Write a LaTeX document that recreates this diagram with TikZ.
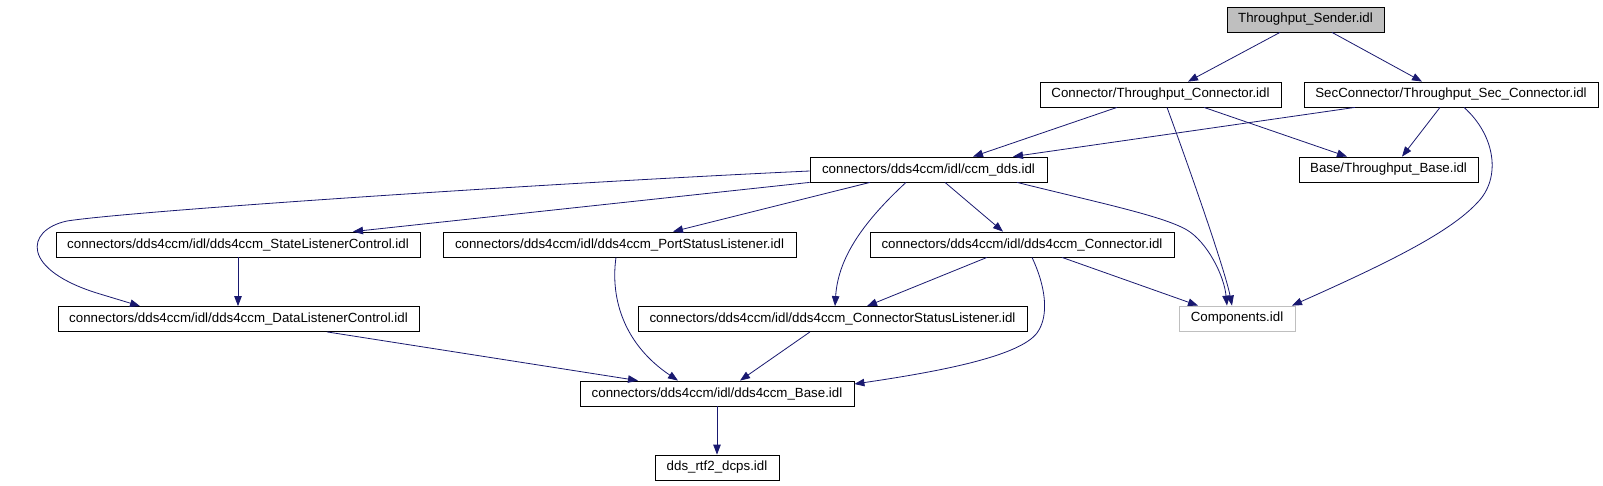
\documentclass[tikz,border=0pt]{standalone}
\usepackage{fontspec}
\setmainfont{Liberation Sans}
\usetikzlibrary{arrows.meta}
\definecolor{edgecol}{HTML}{191970}
\definecolor{grayfill}{HTML}{BFBFBF}
\begin{document}
\begin{tikzpicture}[x=1pt,y=-1pt,
  box/.style={draw=black, line width=0.8pt, fill=white, inner sep=0pt, minimum height=25pt,
    font=\fontsize{13.3}{16}\selectfont, anchor=center},
  rootbox/.style={box, fill=grayfill},
  extbox/.style={box, draw=grayfill},
  edge/.style={draw=edgecol, line width=0.8pt, -{Triangle[length=10pt,width=7.5pt]}}]
\useasboundingbox (0,0) rectangle (1603,485);
\fill[white] (0,0) rectangle (1603,485);

% nodes
\node[rootbox, minimum width=157pt] (sender) at (1305.5,19.5) {Throughput\_Sender.idl};
\node[box, minimum width=241pt] (conntp) at (1160.5,94.5) {Connector/Throughput\_Connector.idl};
\node[box, minimum width=294pt] (secconn) at (1451,94.5) {SecConnector/Throughput\_Sec\_Connector.idl};
\node[box, minimum width=237pt] (ccm) at (928.5,169.5) {connectors/dds4ccm/idl/ccm\_dds.idl};
\node[box, minimum width=179pt] (tpbase) at (1388.5,169.5) {Base/Throughput\_Base.idl};
\node[box, minimum width=364pt] (statelc) at (238,244.5) {connectors/dds4ccm/idl/dds4ccm\_StateListenerControl.idl};
\node[box, minimum width=353pt] (portsl) at (619.5,244.5) {connectors/dds4ccm/idl/dds4ccm\_PortStatusListener.idl};
\node[box, minimum width=304pt] (ddsconn) at (1022,244.5) {connectors/dds4ccm/idl/dds4ccm\_Connector.idl};
\node[box, minimum width=361pt] (datalc) at (238.5,319) {connectors/dds4ccm/idl/dds4ccm\_DataListenerControl.idl};
\node[box, minimum width=389pt] (connsl) at (832.5,319) {connectors/dds4ccm/idl/dds4ccm\_ConnectorStatusListener.idl};
\node[extbox, minimum width=116pt] (comp) at (1237,318.5) {Components.idl};
\node[box, minimum width=274pt] (base) at (717,393.5) {connectors/dds4ccm/idl/dds4ccm\_Base.idl};
\node[box, minimum width=124pt] (rtf2) at (717,467.5) {dds\_rtf2\_dcps.idl};

% edges
\draw[edge] (1280,0 |- sender.south) -- (1188,0 |- conntp.north);
\draw[edge] (1332,0 |- sender.south) -- (1422,0 |- secconn.north);
\draw[edge] (1117,0 |- conntp.south) -- (973,0 |- ccm.north);
\draw[edge] (1355,0 |- secconn.south) -- (1013,0 |- ccm.north);
\draw[edge] (1204,0 |- conntp.south) -- (1347,0 |- tpbase.north);
\draw[edge] (1440,0 |- secconn.south) -- (1402,0 |- tpbase.north);
\draw[edge] (1167,0 |- conntp.south) .. controls (1190,170) and (1225,270) .. (1232,0 |- comp.north);
\draw[edge] (1017,0 |- ccm.south) .. controls (1100,203) and (1163,216) .. (1187,230)
  .. controls (1207,242) and (1224,275) .. (1227,0 |- comp.north);
\draw[edge] (1464,0 |- secconn.south) .. controls (1495,135) and (1502,178) .. (1477,203)
  .. controls (1450,232) and (1390,262) .. (1292,0 |- comp.north);
\draw[edge] (ccm.west |- 0,171) .. controls (550,183) and (130,211) .. (67,221)
  .. controls (25,230) and (20,270) .. (100,294) -- (140,0 |- datalc.north);
\draw[edge] (ccm.south west) -- (353,0 |- statelc.north);
\draw[edge] (870,0 |- ccm.south) -- (673,0 |- portsl.north);
\draw[edge] (906,0 |- ccm.south) .. controls (860,225) and (838,260) .. (835,0 |- connsl.north);
\draw[edge] (945,0 |- ccm.south) -- (1003,0 |- ddsconn.north);
\draw[edge] (statelc.south) -- (statelc.south |- datalc.north);
\draw[edge] (616,0 |- portsl.south) .. controls (610,300) and (625,345) .. (678,0 |- base.north);
\draw[edge] (327,0 |- datalc.south) -- (638,0 |- base.north);
\draw[edge] (810,0 |- connsl.south) -- (740,0 |- base.north);
\draw[edge] (987,0 |- ddsconn.south) -- (867,0 |- connsl.north);
\draw[edge] (1032,0 |- ddsconn.south) .. controls (1045,285) and (1050,315) .. (1037,333)
  .. controls (1020,355) and (950,370) .. (base.east |- 0,384);
\draw[edge] (1062,0 |- ddsconn.south) -- (1198,0 |- comp.north);
\draw[edge] (base.south) -- (rtf2.north);
\end{tikzpicture}
\end{document}
